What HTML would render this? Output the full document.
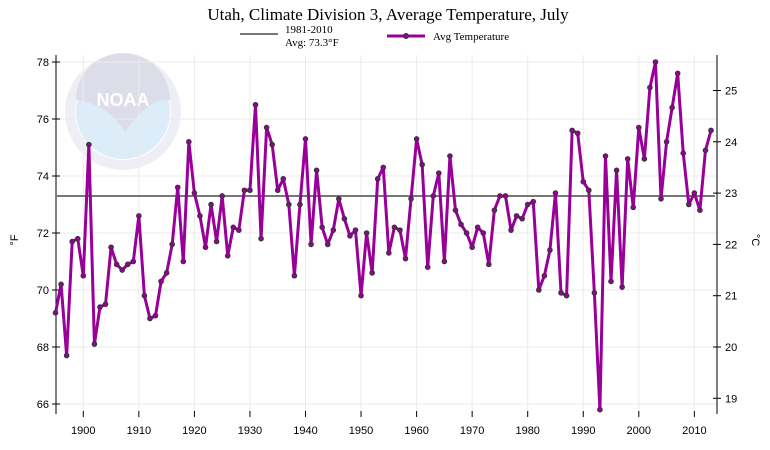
<!DOCTYPE html>
<html><head><meta charset="utf-8"><style>
body{margin:0;background:#fff;}
svg{display:block;font-family:"Liberation Sans",sans-serif;}
</style></head><body>
<svg width="770" height="450" id="c">
<text x="388" y="20" text-anchor="middle" font-family="Liberation Serif" font-size="17">Utah, Climate Division 3, Average Temperature, July</text>
<g>
<line x1="240" y1="34" x2="278" y2="34" stroke="#777" stroke-width="2"/>
<text x="285" y="33" font-family="Liberation Serif" font-size="11">1981-2010</text>
<text x="285" y="46" font-family="Liberation Serif" font-size="11">Avg: 73.3°F</text>
<line x1="387" y1="36" x2="425" y2="36" stroke="#990099" stroke-width="3"/>
<circle cx="406" cy="36" r="2.5" fill="#990099" stroke="#333"/>
<text x="433" y="40" font-family="Liberation Serif" font-size="11">Avg Temperature</text>
</g>
<g>
<circle cx="123" cy="112" r="53" fill="none" stroke="#eeeef5" stroke-width="10"/>
<circle cx="123" cy="112" r="47" fill="#dcedf9"/>
<path d="M76,100 A47,47 0 0 1 170,100 Q150,96 125,132 Q108,104 76,100Z" fill="#dddde9"/>
<text x="123" y="106" text-anchor="middle" font-size="18" font-weight="bold" fill="#fff">NOAA</text>
</g>
<g id="grid"></g>
<g id="axes"></g>
<g id="series"></g>
<text transform="translate(18,240) rotate(-90)" text-anchor="middle" font-size="11">°F</text>
<text transform="translate(752,240) rotate(90)" text-anchor="middle" font-size="11">°C</text>
</svg>
<script>
const years=[];for(let y=1895;y<=2013;y++)years.push(y);
const temps=[69.2,70.2,67.7,71.7,71.8,70.5,75.1,68.1,69.4,69.5,71.5,70.9,70.7,70.9,71.0,72.6,69.8,69.0,69.1,70.3,70.6,71.6,73.6,71.0,75.2,73.4,72.6,71.5,73.0,71.7,73.3,71.2,72.2,72.1,73.5,73.5,76.5,71.8,75.7,75.1,73.5,73.9,73.0,70.5,73.0,75.3,71.6,74.2,72.2,71.6,72.1,73.2,72.5,71.9,72.1,69.8,72.0,70.6,73.9,74.3,71.3,72.2,72.1,71.1,73.2,75.3,74.4,70.8,73.3,74.1,71.0,74.7,72.8,72.3,72.0,71.5,72.2,72.0,70.9,72.8,73.3,73.3,72.1,72.6,72.5,73.0,73.1,70.0,70.5,71.4,73.4,69.9,69.8,75.6,75.5,73.8,73.5,69.9,65.8,74.7,70.3,74.2,70.1,74.6,72.9,75.7,74.6,77.1,78.0,73.2,75.2,76.4,77.6,74.8,73.0,73.4,72.8,74.9,75.6];
const normal=73.3;
const fTicks=[66,68,70,72,74,76,78];
const cTicks=[19,20,21,22,23,24,25];
const xTicks=[1900,1910,1920,1930,1940,1950,1960,1970,1980,1990,2000,2010];
const NS="http://www.w3.org/2000/svg";
const L=56,R=717,T=55,B=414;
const X=y=>83.3+(y-1900)*5.555;
const Y=v=>404-(v-66)*28.5;
function mk(t,a,p){const e=document.createElementNS(NS,t);for(const k in a)e.setAttribute(k,a[k]);p.appendChild(e);return e;}
const grid=document.getElementById('grid'),axes=document.getElementById('axes'),ser=document.getElementById('series');
fTicks.forEach(v=>{const g=mk('line',{x1:L,x2:R,y1:Y(v),y2:Y(v),stroke:'#ebebeb'},grid);


mk('line',{x1:L-4,x2:L+4,y1:Y(v),y2:Y(v),stroke:'#000'},axes);
const t=mk('text',{x:L-7,y:Y(v)+4,'text-anchor':'end','font-size':11},axes);t.textContent=v;

});
cTicks.forEach(c=>{const yy=Y(c*9/5+32);
mk('line',{x1:R-4,x2:R+4,y1:yy,y2:yy,stroke:'#000'},axes);
const t=mk('text',{x:R+8,y:yy+4,'font-size':11},axes);t.textContent=c;

});
xTicks.forEach(y=>{const g=mk('line',{x1:X(y),x2:X(y),y1:T,y2:B,stroke:'#ebebeb'},grid);


mk('line',{x1:X(y),x2:X(y),y1:B-3,y2:B+3,stroke:'#000'},axes);
const t=mk('text',{x:X(y),y:B+20,'text-anchor':'middle','font-size':11},axes);t.textContent=y;

});
const la=mk('line',{x1:L,x2:L,y1:T,y2:B,stroke:'#000'},axes);


const ra=mk('line',{x1:R,x2:R,y1:T,y2:B,stroke:'#000'},axes);


const nl=mk('line',{x1:L,x2:R-2,y1:Y(normal),y2:Y(normal),stroke:'#777','stroke-width':2},ser);


const pl=mk('polyline',{points:temps.map((v,i)=>X(years[i])+','+Y(v)).join(' '),fill:'none',stroke:'#990099','stroke-width':3,'stroke-linejoin':'round'},ser);


temps.forEach((v,i)=>{const c=mk('circle',{cx:X(years[i]),cy:Y(v),r:2.3,fill:'#990099',stroke:'#333','stroke-width':1},ser);

});
</script>
</body></html>
